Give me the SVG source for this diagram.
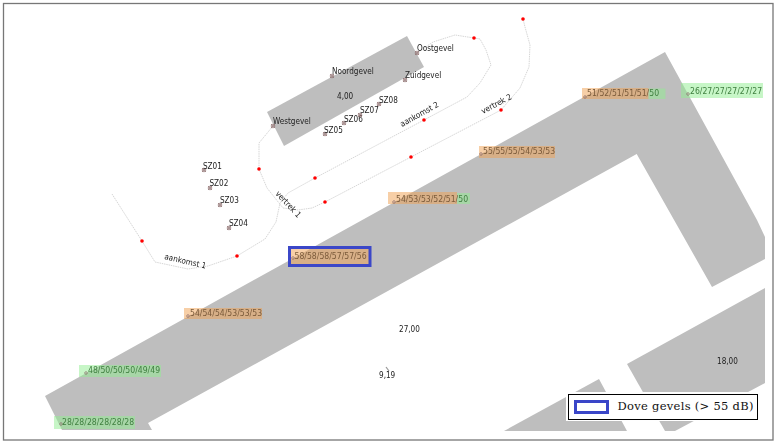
<svg xmlns="http://www.w3.org/2000/svg" width="778" height="444" viewBox="0 0 778 444">
<style>
.b{fill:#bebebe}
.t{font-family:"DejaVu Sans Condensed","DejaVu Sans",sans-serif;font-stretch:condensed;font-size:8.100px;fill:#222}
.o{fill:#f0a050;opacity:.5}
.g{fill:#90ee90;opacity:.5}
.to{font-family:"DejaVu Sans Condensed","DejaVu Sans",sans-serif;font-stretch:condensed;font-size:8.600px;fill:#7a5a3a}
.tg{font-family:"DejaVu Sans Condensed","DejaVu Sans",sans-serif;font-stretch:condensed;font-size:8.600px;fill:#3f7f3f}
.r{fill:#f00}
.m{fill:none;stroke:#8a6a6a;stroke-width:.7}
.c{fill:none;stroke:#c4c4c4;stroke-width:.7;stroke-dasharray:1.500 .8}
.hi{fill:none;stroke:#3a46c8}
</style>
<defs>
<filter id="soft" x="0" y="0" width="100%" height="100%"><feGaussianBlur stdDeviation="0.3"/></filter>
<g id="star"><circle r="1.800" class="m"/><path class="m" d="M-2-2L2 2M-2 2L2-2"/></g>
</defs>
<rect width="778" height="444" fill="#fff"/>
<g filter="url(#soft)">
<g id="buildings">
<path id="b-main" class="b" d="M45 396L665 52L757 220L765 237V259L712 287L636.700 154L148 423L152 430H62Z"/>
<path id="b-se" class="b" d="M627 364L765 288V383L675 431H665Z"/>
<path id="b-s" class="b" d="M599 379L627 431H504Z"/>
<path id="b-n" class="b" d="M267 112L407 36L424 67L284 146Z"/>
</g>
<g id="connectors">
<path class="c" d="M112 194L142 241L155 262L188 269L208 266L237 256L265 239L276 222L280 203L288 193L315 178L424 120L467 97L480 83L491 65L486 50L480 39L474 38L455 35L433 42L417 53"/>
<path class="c" d="M273 126L259 143V169L267 188L283 208L298 210L312 208L325 202L367 180L411 157L501 110L520 88L529 67L530 45L525 27L523 19"/>
<g>
<circle class="r" cx="142" cy="241" r="1.800"/><circle class="r" cx="237" cy="256" r="1.800"/><circle class="r" cx="315" cy="178" r="1.800"/><circle class="r" cx="424" cy="120" r="1.800"/><circle class="r" cx="474" cy="38" r="1.800"/><circle class="r" cx="259" cy="169" r="1.800"/><circle class="r" cx="325" cy="202" r="1.800"/><circle class="r" cx="411" cy="157" r="1.800"/><circle class="r" cx="501" cy="110" r="1.800"/><circle class="r" cx="523" cy="19" r="1.800"/>
</g>
<text class="t" transform="translate(164 259) rotate(13)">aankomst 1</text>
<text class="t" transform="translate(402 127) rotate(-29)">aankomst 2</text>
<text class="t" transform="translate(275 194) rotate(47)">vertrek 1</text>
<text class="t" transform="translate(483 114) rotate(-28)">vertrek 2</text>
</g>
<g id="noordgevel"><use href="#star" x="332" y="76"/><text class="t" x="332" y="74">Noordgevel</text></g>
<g id="westgevel"><use href="#star" x="273" y="126"/><text class="t" x="273" y="124">Westgevel</text></g>
<g id="oostgevel"><use href="#star" x="417" y="53"/><text class="t" x="417" y="51">Oostgevel</text></g>
<g id="zuidgevel"><use href="#star" x="405" y="80"/><text class="t" x="405" y="78">Zuidgevel</text></g>
<g id="sz01"><use href="#star" x="204" y="170"/><text class="t" x="203" y="169">SZ01</text></g>
<g id="sz02"><use href="#star" x="210" y="188"/><text class="t" x="209.500" y="186">SZ02</text></g>
<g id="sz03"><use href="#star" x="220" y="205"/><text class="t" x="220" y="203">SZ03</text></g>
<g id="sz04"><use href="#star" x="229" y="228"/><text class="t" x="229" y="226">SZ04</text></g>
<g id="sz05"><use href="#star" x="325" y="134"/><text class="t" x="324" y="132.500">SZ05</text></g>
<g id="sz06"><use href="#star" x="344" y="123"/><text class="t" x="344" y="121.500">SZ06</text></g>
<g id="sz07"><use href="#star" x="360" y="115"/><text class="t" x="360" y="113">SZ07</text></g>
<g id="sz08"><use href="#star" x="379" y="104"/><text class="t" x="379" y="102.500">SZ08</text></g>
<g id="h-4"><text class="t" x="337" y="99">4,00</text></g>
<g id="h-27"><text class="t" x="399" y="332">27,00</text></g>
<g id="h-18"><text class="t" x="717" y="364">18,00</text></g>
<g id="h-9"><path d="M386 367L389 371" stroke="#999" stroke-width="1.200" fill="none"/><text class="t" x="379" y="378">9,19</text></g>
<g id="l1"><rect class="o" x="582" y="88" width="66.500" height="11"/><rect class="g" x="648.500" y="88.500" width="17" height="10.500"/><circle class="m" cx="585" cy="97" r="1.300"/><text class="to" x="587" y="96">51/52/51/51/51/<tspan class="tg">50</tspan></text></g>
<g id="l2"><rect class="g" x="681" y="83" width="82" height="15"/><circle class="m" cx="688" cy="94" r="1.300"/><text class="tg" x="690" y="94">26/27/27/27/27/27</text></g>
<g id="l3"><rect class="o" x="479" y="146" width="76" height="12"/><circle class="m" cx="481" cy="154" r="1.300"/><text class="to" x="483" y="154">55/55/55/54/53/53</text></g>
<g id="l4"><rect class="o" x="388" y="192" width="69" height="12"/><rect class="g" x="457" y="193" width="13" height="11"/><circle class="m" cx="394" cy="202" r="1.300"/><text class="to" x="396" y="202">54/53/53/52/51/<tspan class="tg">50</tspan></text></g>
<g id="l5"><rect class="o" x="291" y="248" width="78" height="17"/><circle class="m" cx="293" cy="258" r="1.300"/><text class="to" x="294.500" y="259">58/58/58/57/57/56</text><rect class="hi" x="289.500" y="247.500" width="80.500" height="18" stroke-width="3"/></g>
<g id="l6"><rect class="o" x="184" y="308" width="78" height="11"/><circle class="m" cx="188" cy="316" r="1.300"/><text class="to" x="190" y="316">54/54/54/53/53/53</text></g>
<g id="l7"><rect class="g" x="79" y="365" width="82" height="12"/><circle class="m" cx="86" cy="373" r="1.300"/><text class="tg" x="88" y="373">48/50/50/50/49/49</text></g>
<g id="l8"><rect class="g" x="54" y="416" width="81" height="13"/><circle class="m" cx="61" cy="424" r="1.300"/><text class="tg" x="62" y="425">28/28/28/28/28/28</text></g>
</g>
<rect id="frame" x="3.500" y="3.500" width="769.500" height="436.500" fill="none" stroke="#777" stroke-width="1.300"/>
<g id="legend">
<rect x="566" y="392" width="194" height="29" fill="#fff"/>
<rect x="568.500" y="394.500" width="189" height="25" fill="#fff" stroke="#000" stroke-width="1"/>
<rect class="hi" x="575.500" y="401.500" width="32" height="11" stroke-width="3"/>
<text x="617.500" y="410" textLength="136" style="font-family:'DejaVu Serif',serif;font-size:11.500px;fill:#111">Dove gevels (&gt; 55 dB)</text>
</g>
</svg>
